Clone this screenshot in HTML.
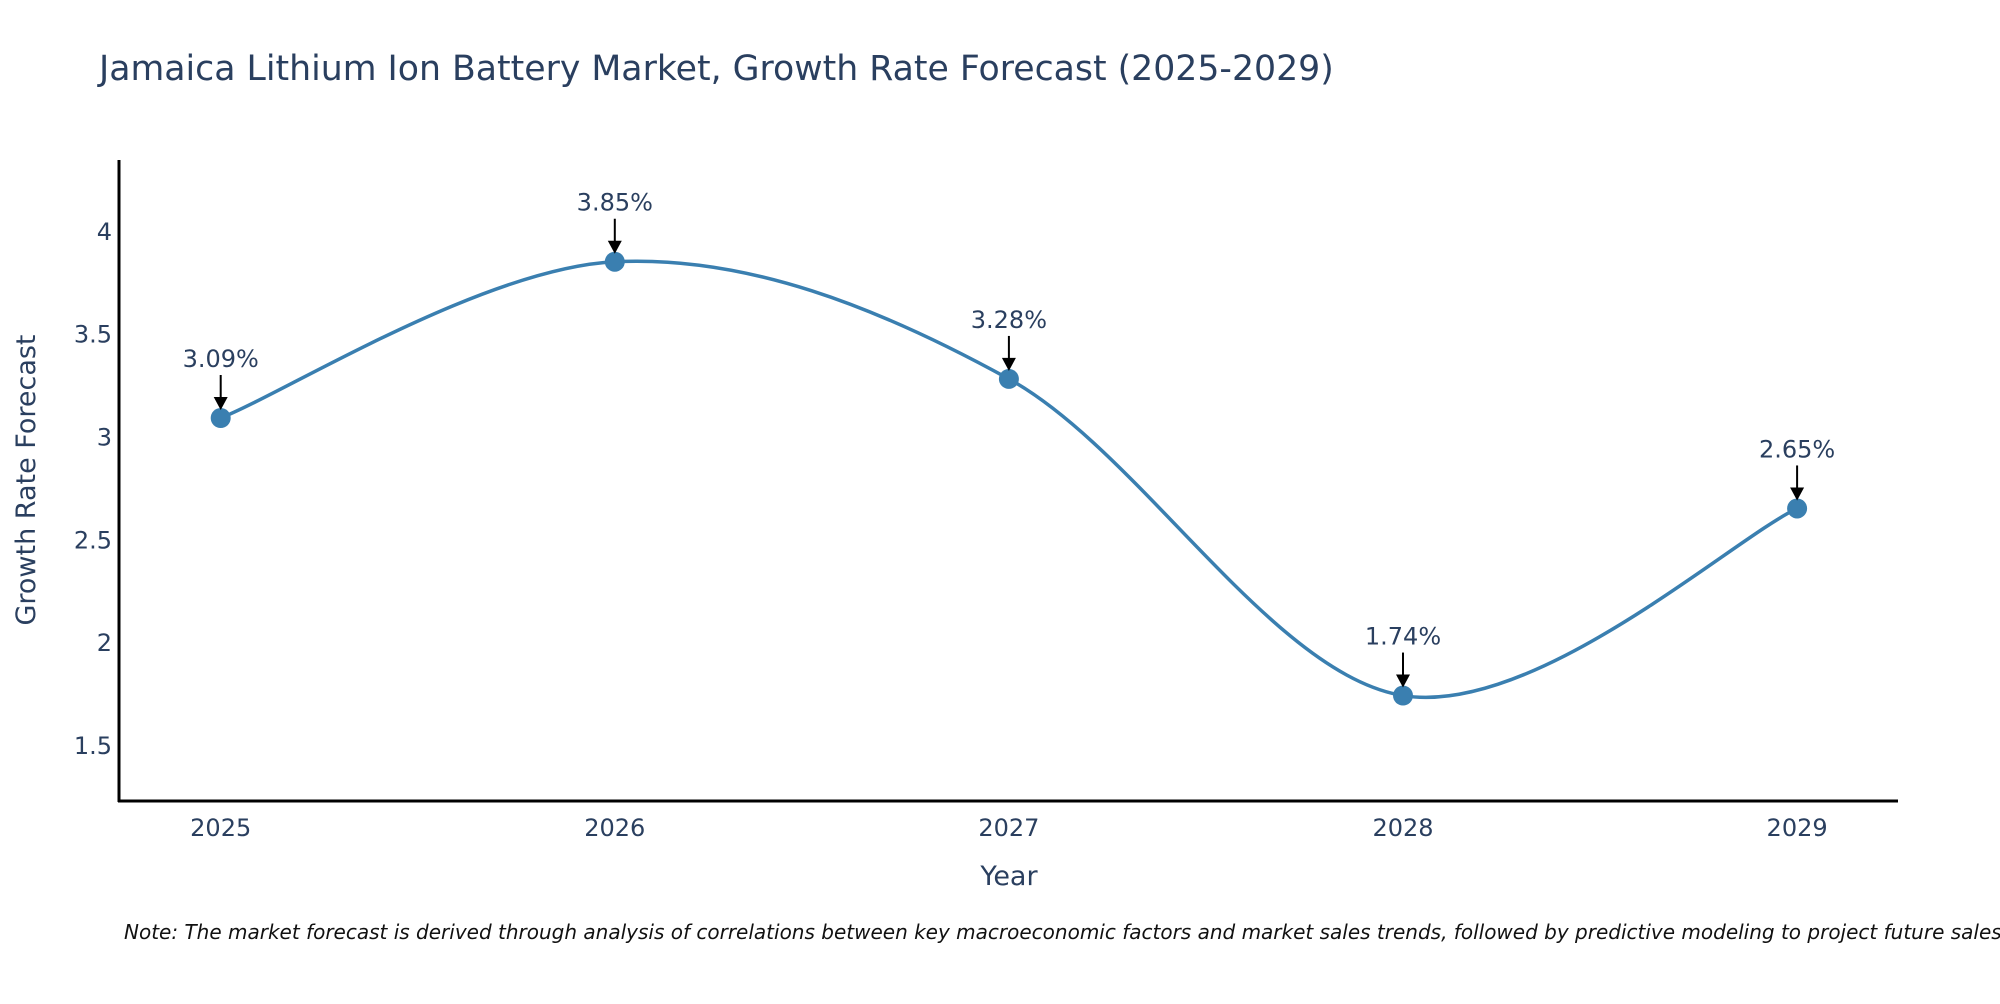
<!DOCTYPE html>
<html><head><meta charset="utf-8"><style>
body{margin:0;background:#fff;width:2000px;height:1000px;overflow:hidden;font-family:"DejaVu Sans","Liberation Sans",sans-serif}
</style></head><body>
<svg id="chart" width="2000" height="1000" xmlns="http://www.w3.org/2000/svg" style="font-family:'DejaVu Sans','Liberation Sans',sans-serif">
<text x="99" y="80" font-size="34.7" fill="#2a3f5f">Jamaica Lithium Ion Battery Market, Growth Rate Forecast (2025-2029)</text>
<g id="yticks"></g>
<g id="xticks"></g>
<line x1="119" y1="160" x2="119" y2="802" stroke="#000" stroke-width="3"/>
<line x1="118" y1="801" x2="1898" y2="801" stroke="#000" stroke-width="3"/>
<text transform="translate(35,480) rotate(-90)" text-anchor="middle" font-size="27" fill="#2a3f5f">Growth Rate Forecast</text>
<text x="1009" y="885" text-anchor="middle" font-size="27" fill="#2a3f5f">Year</text>
<g id="series"></g>
<text x="124" y="939" font-size="20" font-style="italic" fill="#111">Note: The market forecast is derived through analysis of correlations between key macroeconomic factors and market sales trends, followed by predictive modeling to project future sales.</text>
</svg>
<script>
const years = ["2025","2026","2027","2028","2029"];
const growth = [3.09, 3.85, 3.28, 1.74, 2.65];
const yTickValues = [1.5, 2, 2.5, 3, 3.5, 4];
const NS = "http://www.w3.org/2000/svg";
function xPos(i){ return 220.7 + i * 394.1; }
function yPos(v){ return 230.9 + (4 - v) * 205.6; }
function mk(tag, attrs, parent){ const e=document.createElementNS(NS,tag); for(const k in attrs) e.setAttribute(k,attrs[k]); parent.appendChild(e); return e; }
const yg=document.getElementById('yticks'), xg=document.getElementById('xticks'), sg=document.getElementById('series');
yTickValues.forEach(v=>{
  const t=mk('text',{x:112,y:yPos(v)+9,'text-anchor':'end','font-size':24,fill:'#2a3f5f'},yg);
  
  
  t.textContent=String(v);
});
years.forEach((y,i)=>{
  const t=mk('text',{x:xPos(i),y:836,'text-anchor':'middle','font-size':24,fill:'#2a3f5f'},xg);
  
  
  t.textContent=y;
});
const pts=growth.map((v,i)=>[xPos(i),yPos(v)]);
let d=`M${pts[0][0]},${pts[0][1]}`;
for(let i=0;i<pts.length-1;i++){
  const p0=pts[Math.max(i-1,0)],p1=pts[i],p2=pts[i+1],p3=pts[Math.min(i+2,pts.length-1)];
  const c1=[p1[0]+(p2[0]-p0[0])/6,p1[1]+(p2[1]-p0[1])/6];
  const c2=[p2[0]-(p3[0]-p1[0])/6,p2[1]-(p3[1]-p1[1])/6];
  d+=` C${c1[0]},${c1[1]} ${c2[0]},${c2[1]} ${p2[0]},${p2[1]}`;
}
const line=mk('path',{d:d,fill:'none',stroke:'#3a7fb0','stroke-width':3.5},sg);


growth.forEach((v,i)=>{
  const x=xPos(i),y=yPos(v);
  const c=mk('circle',{cx:x,cy:y,r:10,fill:'#3a7fb0'},sg);
  
  
  const a=mk('line',{x1:x,y1:y-43,x2:x,y2:y-18,stroke:'#000','stroke-width':2},sg);
  
  
  const h=mk('polygon',{points:`${x-7},${y-21} ${x+7},${y-21} ${x},${y-8}`,fill:'#000'},sg);
  
  
  const t=mk('text',{x:x,y:y-51,'text-anchor':'middle','font-size':24,fill:'#2a3f5f'},sg);
  
  
  t.textContent=v.toFixed(2)+'%';
});
</script>
</body></html>
